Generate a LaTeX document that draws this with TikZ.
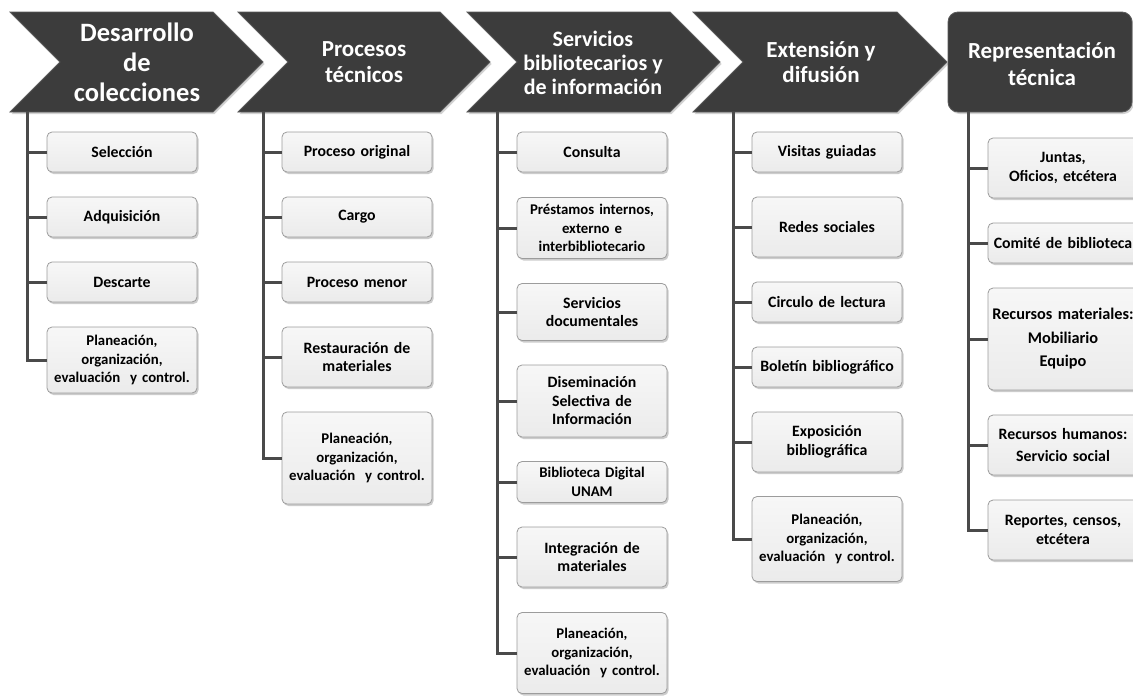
\documentclass[tikz,border=0pt]{standalone}
\usepackage{fontspec}
\setmainfont{Carlito}
\usetikzlibrary{shadows}
\definecolor{hdrfill}{HTML}{3C3C3C}
\definecolor{hdredge}{HTML}{5A5A5A}
\definecolor{boxline}{HTML}{9C9C9C}
\definecolor{boxtop}{HTML}{F7F7F7}
\definecolor{boxbot}{HTML}{EBEBEB}
\definecolor{connc}{HTML}{4A4A4A}
\begin{document}
\begin{tikzpicture}[x=1pt,y=-1pt,
  hdrshape/.style={fill=hdrfill, draw=hdredge, line width=0.8pt,
    drop shadow={shadow xshift=1.5pt, shadow yshift=-2pt, opacity=0.35}},
  hdrtext/.style={text=white, align=center, inner sep=0pt,
    font=\bfseries\fontsize{23}{25.5}\selectfont},
  item/.style={draw=boxline, line width=0.8pt, top color=boxtop, bottom color=boxbot,
    rounded corners=5pt, minimum width=150pt, text width=146pt, inner sep=2pt,
    align=center, font=\bfseries\fontsize{15.8}{18.5}\selectfont,
    drop shadow={shadow xshift=1.5pt, shadow yshift=-2pt, opacity=0.4}},
  small/.style={font=\bfseries\fontsize{14.8}{18.3}\selectfont},
  conn/.style={draw=connc, line width=3pt, line join=miter}
]
\useasboundingbox (0,0) rectangle (1133,696);
\fill[white] (0,0) rectangle (1133,696);

% process chevrons
\path[hdrshape] (10,12) -- (213,12) -- (263,62) -- (213,112) -- (10,112) -- (60,62) -- cycle;
\path[hdrshape] (238,12) -- (440,12) -- (490,62) -- (440,112) -- (238,112) -- (288,62) -- cycle;
\path[hdrshape] (467,12) -- (670,12) -- (720,62) -- (670,112) -- (467,112) -- (517,62) -- cycle;
\path[hdrshape] (693,12) -- (897,12) -- (947,62) -- (897,112) -- (693,112) -- (743,62) -- cycle;
\path[hdrshape, rounded corners=10pt] (948,12) rectangle (1132,112);

\node[hdrtext, font=\bfseries\fontsize{26.5}{30}\selectfont] (h1) at (137,62) {Desarrollo\\de\\colecciones};
\node[hdrtext] (h2) at (364,62) {Procesos\\técnicos};
\node[hdrtext, font=\bfseries\fontsize{22}{24}\selectfont] (h3) at (593,63) {Servicios\\bibliotecarios y\\de información};
\node[hdrtext] (h4) at (821,62) {Extensión y\\difusión};
\node[hdrtext, font=\bfseries\fontsize{23}{27}\selectfont] (h5) at (1042,64) {Representación\\técnica};

% trunk start points under each header
\coordinate (t1) at (27,112);
\coordinate (t2) at (263,112);
\coordinate (t3) at (497,112);
\coordinate (t4) at (733,112);
\coordinate (t5) at (968,112);

% Desarrollo de colecciones
\node[item, minimum height=40pt] (a1) at (122,152) {Selección};
\node[item, minimum height=40pt] (a2) at (122,217) {Adquisición};
\node[item, minimum height=40pt] (a3) at (122,282) {Descarte};
\node[item, small, minimum height=66pt] (a4) at (122,360) {Planeación,\\organización,\\evaluación \ y control.};

% Procesos técnicos
\node[item, minimum height=40pt] (b1) at (357,152) {Proceso original};
\node[item, minimum height=40pt] (b2) at (357,217) {Cargo};
\node[item, minimum height=40pt] (b3) at (357,282) {Proceso menor};
\node[item, minimum height=60pt] (b4) at (357,357) {Restauración de\\materiales};
\node[item, small, minimum height=92pt] (b5) at (357,458) {Planeación,\\organización,\\evaluación \ y control.};

% Servicios bibliotecarios y de información
\node[item, minimum height=40pt] (c1) at (592,152) {Consulta};
\node[item, small, minimum height=61pt] (c2) at (592,228) {Préstamos internos,\\externo e\\interbibliotecario};
\node[item, minimum height=57pt] (c3) at (592,312) {Servicios\\documentales};
\node[item, minimum height=72pt] (c4) at (592,401) {Diseminación\\Selectiva de\\Información};
\node[item, small, minimum height=41pt] (c5) at (592,482) {Biblioteca Digital\\UNAM};
\node[item, minimum height=60pt] (c6) at (592,557) {Integración de\\materiales};
\node[item, small, minimum height=81pt] (c7) at (592,653) {Planeación,\\organización,\\evaluación \ y control.};

% Extensión y difusión
\node[item, minimum height=40pt] (d1) at (827,152) {Visitas guiadas};
\node[item, minimum height=60pt] (d2) at (827,227) {Redes sociales};
\node[item, minimum height=40pt] (d3) at (827,302) {Circulo de lectura};
\node[item, minimum height=40pt] (d4) at (827,367) {Boletín bibliográfico};
\node[item, minimum height=60pt] (d5) at (827,442) {Exposición\\bibliográfica};
\node[item, small, minimum height=85pt] (d6) at (827,539) {Planeación,\\organización,\\evaluación \ y control.};

% Representación técnica
\node[item, minimum height=60pt] (e1) at (1063,168) {Juntas,\\[1pt]Oficios, etcétera};
\node[item, minimum height=40pt] (e2) at (1063,243) {Comité de biblioteca};
\node[item, font=\bfseries\fontsize{16.3}{18.5}\selectfont, minimum height=102pt] (e3) at (1063,339) {Recursos materiales:\\[5pt]Mobiliario\\[5pt]Equipo};
\node[item, minimum height=60pt] (e4) at (1063,445) {Recursos humanos:\\[3pt]Servicio social};
\node[item, minimum height=60pt] (e5) at (1063,530) {Reportes, censos,\\etcétera};

% connectors: trunk down each column, branch into every box
\foreach \n in {a1,a2,a3,a4} \draw[conn] (t1) |- (\n.west);
\foreach \n in {b1,b2,b3,b4,b5} \draw[conn] (t2) |- (\n.west);
\foreach \n in {c1,c2,c3,c4,c5,c6,c7} \draw[conn] (t3) |- (\n.west);
\foreach \n in {d1,d2,d3,d4,d5,d6} \draw[conn] (t4) |- (\n.west);
\foreach \n in {e1,e2,e3,e4,e5} \draw[conn] (t5) |- (\n.west);
\end{tikzpicture}
\end{document}
